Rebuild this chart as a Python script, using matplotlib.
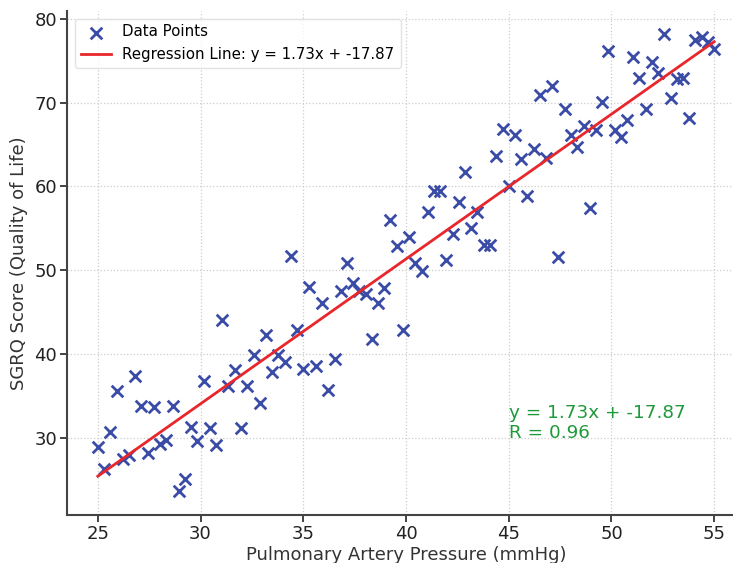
import matplotlib
matplotlib.use("Agg")
import matplotlib.pyplot as plt
import numpy as np

pressure = [25.00, 25.30, 25.61, 25.91, 26.21, 26.52, 26.82, 27.12, 27.42, 27.73,
            28.03, 28.33, 28.64, 28.94, 29.24, 29.55, 29.85, 30.15, 30.45, 30.76,
            31.06, 31.36, 31.67, 31.97, 32.27, 32.58, 32.88, 33.18, 33.48, 33.79,
            34.09, 34.39, 34.70, 35.00, 35.30, 35.61, 35.91, 36.21, 36.52, 36.82,
            37.12, 37.42, 37.73, 38.03, 38.33, 38.64, 38.94, 39.24, 39.55, 39.85,
            40.15, 40.45, 40.76, 41.06, 41.36, 41.67, 41.97, 42.27, 42.58, 42.88,
            43.18, 43.48, 43.79, 44.09, 44.39, 44.70, 45.00, 45.30, 45.61, 45.91,
            46.21, 46.52, 46.82, 47.12, 47.42, 47.73, 48.03, 48.33, 48.64, 48.94,
            49.24, 49.55, 49.85, 50.15, 50.45, 50.76, 51.06, 51.36, 51.67, 51.97,
            52.27, 52.58, 52.88, 53.18, 53.48, 53.79, 54.09, 54.39, 54.70, 55.00]
sgrq = [28.9, 26.3, 30.7, 35.6, 27.4, 27.9, 37.4, 33.8, 28.1, 33.7,
        29.2, 29.7, 33.8, 23.6, 25.0, 31.3, 29.6, 36.8, 31.2, 29.1,
        44.0, 36.2, 38.1, 31.2, 36.1, 39.9, 34.1, 42.2, 37.8, 39.9,
        39.0, 51.7, 42.9, 38.2, 48.0, 38.5, 46.1, 35.7, 39.4, 47.5,
        50.8, 48.5, 47.5, 47.2, 41.8, 46.1, 47.9, 56.0, 52.9, 42.9,
        53.9, 50.9, 49.9, 56.9, 59.5, 59.5, 51.2, 54.3, 58.1, 61.7,
        55.0, 57.0, 53.0, 53.0, 63.6, 66.8, 60.1, 66.1, 63.3, 58.9,
        64.5, 70.9, 63.4, 72.0, 51.6, 69.3, 66.1, 64.7, 67.2, 57.4,
        66.7, 70.1, 76.2, 66.7, 65.9, 67.9, 75.4, 73.0, 69.3, 74.9,
        73.5, 78.2, 70.5, 72.8, 73.0, 68.2, 77.5, 77.9, 77.2, 76.4]
slope = 1.73
intercept = -17.87
r_value = 0.96
x_ticks = [25, 30, 35, 40, 45, 50, 55]
y_ticks = [30, 40, 50, 60, 70, 80]

fig = plt.figure(figsize=(7.33, 5.63), dpi=100)
ax = fig.add_axes([67/733, 48/563, 678/733, 504/563])

ax.scatter(pressure, sgrq, marker='x', s=70, linewidths=2.0, color='#3a4ca6',
           label='Data Points', zorder=3)
xl = np.array([min(pressure), max(pressure)])
ax.plot(xl, slope * xl + intercept, color='#e8262b', linewidth=2,
        label=f'Regression Line: y = {slope:.2f}x + {intercept:.2f}', zorder=4)

ax.text(45, 30, f'y = {slope:.2f}x + {intercept:.2f}\nR = {r_value:.2f}',
        color='#1f9a3a', fontsize=13.2, linespacing=1.1)

ax.set_xlim(23.5, 56.5)
ax.set_ylim(20.75, 80.95)
ax.set_xticks(x_ticks)
ax.set_yticks(y_ticks)
ax.tick_params(labelsize=13, direction='out', length=5, width=1.2, pad=2,
               colors='#222222')
ax.set_xlabel('Pulmonary Artery Pressure (mmHg)', fontsize=13, color='#333333',
              labelpad=2)
ax.set_ylabel('SGRQ Score (Quality of Life)', fontsize=13, color='#333333',
              labelpad=5)
ax.grid(True, linestyle=':', color='#cccccc', linewidth=0.9)
for s in ['top', 'right']:
    ax.spines[s].set_visible(False)
for s in ['left', 'bottom']:
    ax.spines[s].set_color('#444444')
    ax.spines[s].set_linewidth(1.5)

leg = ax.legend(loc='upper left', fontsize=10.8, frameon=True, borderaxespad=0.5)
leg.get_frame().set_edgecolor('#dddddd')

fig.savefig('out.png', dpi=100)
